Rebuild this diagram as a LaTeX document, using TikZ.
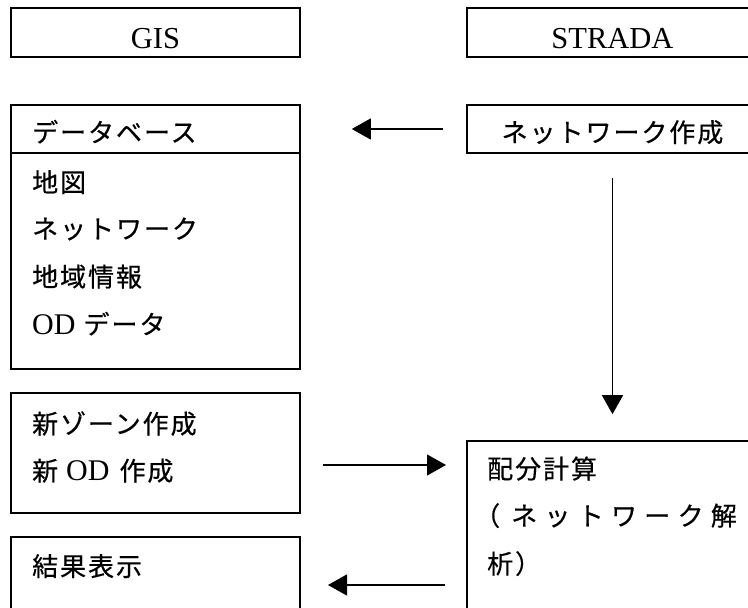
\documentclass[tikz,border=0pt]{standalone}
\usepackage{fontspec}
\setmainfont{Liberation Serif}
\newfontfamily\jp[LetterSpace=7.5,FakeBold=0.5]{Noto Sans CJK JP}
\newfontfamily\jpw[LetterSpace=28,FakeBold=0.5]{Noto Sans CJK JP}
\usetikzlibrary{arrows.meta}
\begin{document}
\begin{tikzpicture}[x=1pt,y=-1pt,
  box/.style={draw, line width=1.6pt, inner sep=0pt, rectangle},
  arr/.style={line width=1.3pt, -{Triangle[length=19pt,width=21pt]}},
  lat/.style={inner sep=0pt, anchor=base, font=\fontsize{30.5pt}{36pt}\selectfont},
  jtx/.style={inner sep=0pt, anchor=base west, font=\fontsize{26pt}{30pt}\selectfont\jp},
  jtc/.style={inner sep=0pt, anchor=base, font=\fontsize{26pt}{30pt}\selectfont\jp}]
\useasboundingbox (0,0) rectangle (748,608);
\clip (0,0) rectangle (748,608);
% boxes
\node[box, minimum width=289pt, minimum height=49pt] (gis) at (155.5,32.5) {};
\node[box, minimum width=291pt, minimum height=49pt] (strada) at (612.5,32.5) {};
\node[box, minimum width=289pt, minimum height=264pt] (db) at (155.5,237) {};
\node[box, minimum width=289pt, minimum height=48pt] (dbh) at (155.5,129) {};
\node[box, minimum width=291pt, minimum height=48pt] (net) at (612.5,129) {};
\node[box, minimum width=289pt, minimum height=120pt] (zone) at (155.5,453) {};
\node[box, minimum width=289pt, minimum height=90pt] (res) at (155.5,582) {};
\node[box, minimum width=291pt, minimum height=190pt] (calc) at (612.5,536) {};
% texts
\node[lat] (tgis) at (155.5,48) {GIS};
\node[lat] (tstrada) at (612.5,48) {STRADA};
\node[jtx] (t1) at (32,142) {データベース};
\node[jtc] (t2) at (612.5,142) {ネットワーク作成};
\node[jtx] (t3) at (32,192) {地図};
\node[jtx] (t4) at (32,238.5) {ネットワーク};
\node[jtx] (t5) at (32,286.5) {地域情報};
\node[jtx] (t6) at (32,334) {{\fontsize{30pt}{36pt}\rmfamily OD}\kern8pt データ};
\node[jtx] (t7) at (32,433.5) {新ゾーン作成};
\node[jtx] (t8) at (32,480.5) {新\kern8pt{\fontsize{30pt}{36pt}\rmfamily OD}\kern10pt 作成};
\node[jtx] (t9) at (32,576) {結果表示};
\node[jtx] (t10) at (487,478.5) {配分計算};
\node[jtx] (t11) at (487,525.5) {\kern-13pt{\jpw （\kern11pt ネットワーク解}};
\node[jtx] (t12) at (487,573.5) {析）};
% arrows
\coordinate (a3s) at (323,465);
\coordinate (a3e) at (446,465);
\coordinate (a4s) at (445,585);
\coordinate (a4e) at (328,585);
\draw[arr, shorten <=23pt, shorten >=51pt] (net.west) -- (dbh.east);
\draw[arr, shorten <=24pt, shorten >=26pt] (net.south) -- (calc.north);
\draw[arr] (a3s) -- (a3e);
\draw[arr] (a4s) -- (a4e);
\end{tikzpicture}
\end{document}
